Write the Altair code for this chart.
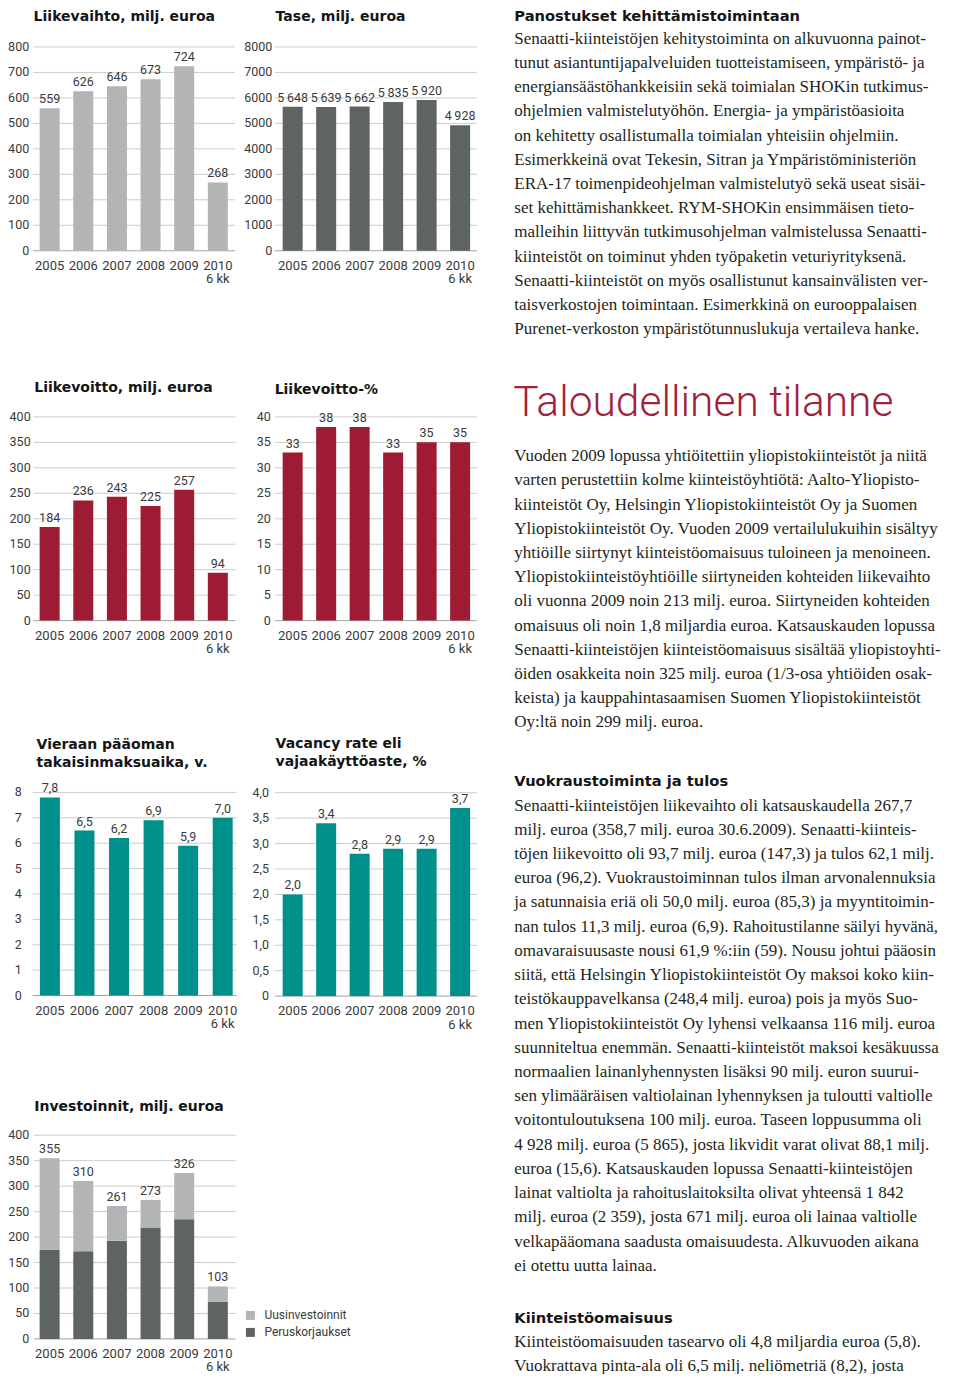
import altair as alt
import pandas as pd

# ---------------- data ----------------
years = ["2005", "2006", "2007", "2008", "2009", "2010"]
year_labels = ["2005", "2006", "2007", "2008", "2009", "2010\n6 kk"]

liikevaihto = [559, 626, 646, 673, 724, 268]
liikevaihto_ticks = [0, 100, 200, 300, 400, 500, 600, 700, 800]

tase = [5648, 5639, 5662, 5835, 5920, 4928]
tase_ticks = [0, 1000, 2000, 3000, 4000, 5000, 6000, 7000, 8000]

liikevoitto = [184, 236, 243, 225, 257, 94]
liikevoitto_ticks = [0, 50, 100, 150, 200, 250, 300, 350, 400]

liikevoitto_pct = [33, 38, 38, 33, 35, 35]
liikevoitto_pct_ticks = [0, 5, 10, 15, 20, 25, 30, 35, 40]

takaisinmaksuaika = [7.8, 6.5, 6.2, 6.9, 5.9, 7.0]
takaisinmaksuaika_ticks = [0, 1, 2, 3, 4, 5, 6, 7, 8]

vajaakaytto = [2.0, 3.4, 2.8, 2.9, 2.9, 3.7]
vajaakaytto_ticks = [0, 0.5, 1.0, 1.5, 2.0, 2.5, 3.0, 3.5, 4.0]

investoinnit = [355, 310, 261, 273, 326, 103]
peruskorjaukset = [175, 172, 193, 219, 235, 73]
uusinvestoinnit = [180, 138, 68, 54, 91, 30]
investoinnit_ticks = [0, 50, 100, 150, 200, 250, 300, 350, 400]
series_names = ["Uusinvestoinnit", "Peruskorjaukset"]

titles = {
    "liikevaihto": "Liikevaihto, milj. euroa",
    "tase": "Tase, milj. euroa",
    "liikevoitto": "Liikevoitto, milj. euroa",
    "liikevoitto_pct": "Liikevoitto-%",
    "takaisin": ["Vieraan pääoman", "takaisinmaksuaika, v."],
    "vajaa": ["Vacancy rate eli", "vajaakäyttöaste, %"],
    "investoinnit": "Investoinnit, milj. euroa",
}

heading_1 = "Panostukset kehittämistoimintaan"
body_1 = [
    "Senaatti-kiinteistöjen kehitystoiminta on alkuvuonna painot-",
    "tunut asiantuntijapalveluiden tuotteistamiseen, ympäristö- ja",
    "energiansäästöhankkeisiin sekä toimialan SHOKin tutkimus-",
    "ohjelmien valmistelutyöhön.  Energia- ja ympäristöasioita",
    "on kehitetty osallistumalla toimialan yhteisiin ohjelmiin.",
    "Esimerkkeinä ovat Tekesin, Sitran ja Ympäristöministeriön",
    "ERA-17 toimenpideohjelman valmistelutyö sekä useat sisäi-",
    "set kehittämishankkeet. RYM-SHOKin ensimmäisen tieto-",
    "malleihin liittyvän tutkimusohjelman valmistelussa Senaatti-",
    "kiinteistöt on toiminut yhden työpaketin veturiyrityksenä.",
    "Senaatti-kiinteistöt on myös osallistunut kansainvälisten ver-",
    "taisverkostojen toimintaan. Esimerkkinä on eurooppalaisen",
    "Purenet-verkoston ympäristötunnuslukuja vertaileva hanke.",
]
heading_main = "Taloudellinen tilanne"
body_2 = [
    "Vuoden 2009 lopussa yhtiöitettiin yliopistokiinteistöt ja niitä",
    "varten perustettiin kolme kiinteistöyhtiötä: Aalto-Yliopisto-",
    "kiinteistöt Oy, Helsingin Yliopistokiinteistöt Oy ja Suomen",
    "Yliopistokiinteistöt Oy. Vuoden 2009 vertailulukuihin sisältyy",
    "yhtiöille siirtynyt kiinteistöomaisuus tuloineen ja menoineen.",
    "Yliopistokiinteistöyhtiöille siirtyneiden kohteiden liikevaihto",
    "oli vuonna 2009 noin 213 milj. euroa. Siirtyneiden kohteiden",
    "omaisuus oli noin 1,8 miljardia euroa. Katsauskauden lopussa",
    "Senaatti-kiinteistöjen kiinteistöomaisuus sisältää yliopistoyhti-",
    "öiden osakkeita noin 325 milj. euroa (1/3-osa yhtiöiden osak-",
    "keista) ja kauppahintasaamisen Suomen Yliopistokiinteistöt",
    "Oy:ltä noin 299 milj. euroa.",
]
heading_3 = "Vuokraustoiminta ja tulos"
body_3 = [
    "Senaatti-kiinteistöjen liikevaihto oli katsauskaudella 267,7",
    "milj. euroa (358,7 milj. euroa 30.6.2009). Senaatti-kiinteis-",
    "töjen liikevoitto oli 93,7 milj. euroa (147,3) ja tulos 62,1 milj.",
    "euroa (96,2). Vuokraustoiminnan tulos ilman arvonalennuksia",
    "ja satunnaisia eriä oli 50,0 milj. euroa (85,3) ja myyntitoimin-",
    "nan tulos 11,3 milj. euroa (6,9). Rahoitustilanne säilyi hyvänä,",
    "omavaraisuusaste nousi 61,9 %:iin (59). Nousu johtui pääosin",
    "siitä, että Helsingin Yliopistokiinteistöt Oy maksoi koko kiin-",
    "teistökauppavelkansa (248,4 milj. euroa) pois ja myös Suo-",
    "men Yliopistokiinteistöt Oy lyhensi velkaansa 116 milj. euroa",
    "suunniteltua enemmän. Senaatti-kiinteistöt maksoi kesäkuussa",
    "normaalien lainanlyhennysten lisäksi 90 milj. euron suurui-",
    "sen ylimääräisen valtiolainan lyhennyksen ja tuloutti valtiolle",
    "voitontuloutuksena 100 milj. euroa. Taseen loppusumma oli",
    "4 928 milj. euroa (5 865), josta likvidit varat olivat 88,1 milj.",
    "euroa (15,6). Katsauskauden lopussa Senaatti-kiinteistöjen",
    "lainat valtiolta ja rahoituslaitoksilta olivat yhteensä 1 842",
    "milj. euroa (2 359), josta 671 milj. euroa oli lainaa valtiolle",
    "velkapääomana saadusta omaisuudesta. Alkuvuoden aikana",
    "ei otettu uutta lainaa.",
]
heading_4 = "Kiinteistöomaisuus"
body_4 = [
    "Kiinteistöomaisuuden tasearvo oli 4,8 miljardia euroa (5,8).",
    "Vuokrattava pinta-ala oli 6,5 milj. neliömetriä (8,2), josta",
]

# ---------------- styling / layout helpers ----------------
LIGHT = "#b3b4b6"
DARK = "#5d6462"
RED = "#9d1c33"
TEAL = "#00908b"
AX_FONT = "Roboto"
AX_COLOR = "#3a3a3a"
TITLE_FONT = "DejaVu Sans"
LBL_SIZE = 12.5


def X(x):
    return round(x * 0.985, 2)


def Y(y):
    return round(y * 0.9908, 2)


one = pd.DataFrame({"k": [0]})


def f_int(v):
    return str(v)


def f_space(v):
    return f"{v:,}".replace(",", "\u2009")


def f_dec(v):
    return f"{v:.1f}".replace(".", ",")


def f_dec_tick(v):
    return "0" if v == 0 else f_dec(v)


def scales(band, ybot, ytop, dmax):
    r0, r1 = X(band[0]), X(band[1])
    step = (r1 - r0) / len(years)
    pin = 1 - 20.0 / step
    xs = alt.Scale(type="band", domain=years, range=[r0, r1],
                   paddingInner=pin, paddingOuter=pin / 2)
    ys = alt.Scale(type="linear", domain=[0, dmax], range=[Y(ybot), Y(ytop)],
                   nice=False, zero=True)
    return xs, ys


def frame(title, tx, ty, ticks, tick_fmt, ybot, grid, tick_x, xs, ys):
    tdf = pd.DataFrame({"t": ticks, "lbl": [tick_fmt(t) for t in ticks]})
    cdf = pd.DataFrame({"year": years, "cat": year_labels})
    g = alt.Chart(tdf).mark_rule(strokeWidth=1).encode(
        y=alt.Y("t:Q", scale=ys, axis=None),
        x=alt.value(X(grid[0])),
        x2=alt.value(X(grid[1])),
        color=alt.when(alt.datum.t == 0).then(alt.value("#a3a3a3")).otherwise(alt.value("#cccccc")),
    )
    tl = alt.Chart(tdf).mark_text(
        align="right", baseline="middle", font=AX_FONT, fontSize=LBL_SIZE, color=AX_COLOR
    ).encode(y=alt.Y("t:Q", scale=ys, axis=None), x=alt.value(X(tick_x)), text="lbl:N")
    cl = alt.Chart(cdf).mark_text(
        align="center", baseline="alphabetic", lineBreak="\n", lineHeight=13.5,
        font=AX_FONT, fontSize=13, color=AX_COLOR
    ).encode(x=alt.X("year:N", scale=xs, axis=None), y=alt.value(Y(ybot) + 19), text="cat:N")
    ti = alt.Chart(one).mark_text(
        text=title, align="left", baseline="alphabetic", font=TITLE_FONT,
        fontWeight="bold", fontSize=14, lineHeight=18, color="#151515"
    ).encode(x=alt.value(X(tx)), y=alt.value(Y(ty)))
    return g, tl, cl, ti


def simple_panel(values, vfmt, color, title, tx, ty, ticks, tfmt, dmax,
                 ybot, ytop, band, grid, tick_x):
    xs, ys = scales(band, ybot, ytop, dmax)
    df = pd.DataFrame({"year": years, "v": values, "lbl": [vfmt(v) for v in values]})
    b = alt.Chart(df).mark_bar(color=color).encode(
        x=alt.X("year:N", scale=xs, axis=None),
        y=alt.Y("v:Q", scale=ys, axis=None),
    )
    vl = alt.Chart(df).mark_text(
        align="center", baseline="alphabetic", dy=-5, font=AX_FONT, fontSize=LBL_SIZE, color=AX_COLOR
    ).encode(x=alt.X("year:N", scale=xs, axis=None), y=alt.Y("v:Q", scale=ys, axis=None), text="lbl:N")
    g, tl, cl, ti = frame(title, tx, ty, ticks, tfmt, ybot, grid, tick_x, xs, ys)
    return alt.layer(g, tl, b, vl, cl, ti)


p1 = simple_panel(liikevaihto, f_int, LIGHT, titles["liikevaihto"], 26, 13.5,
                  liikevaihto_ticks, f_int, 800, 245, 39.3, (25.2, 230.1), (25.5, 230.5), 21.5)
p2 = simple_panel(tase, f_space, DARK, titles["tase"], 271.7, 13.3,
                  tase_ticks, f_int, 8000, 245, 39.3, (272, 476), (271, 476), 268.3)
p3 = simple_panel(liikevoitto, f_int, RED, titles["liikevoitto"], 26.7, 387.3,
                  liikevoitto_ticks, f_int, 400, 618.3, 412.7, (25.2, 230.1), (26, 231), 23)
p4 = simple_panel(liikevoitto_pct, f_int, RED, titles["liikevoitto_pct"], 270.7, 389.3,
                  liikevoitto_pct_ticks, f_int, 40, 618.3, 412.7, (272, 476), (271, 476), 266.7)
p5 = simple_panel(takaisinmaksuaika, f_dec, TEAL, titles["takaisin"], 29, 747.5,
                  takaisinmaksuaika_ticks, f_int, 8, 996.7, 791.7, (25, 235.5), (25, 232), 14)
p6 = simple_panel(vajaakaytto, f_dec, TEAL, titles["vajaa"], 271.7, 746.5,
                  vajaakaytto_ticks, f_dec_tick, 4, 997.3, 792, (272, 476), (271, 476), 265)

# stacked investments panel
xs7, ys7 = scales((25.2, 230.1), 1343.3, 1137.7, 400)
inv_df = pd.DataFrame({
    "year": years * 2,
    "typ": [series_names[1]] * 6 + [series_names[0]] * 6,
    "v": peruskorjaukset + uusinvestoinnit,
    "ord": [0] * 6 + [1] * 6,
})
tot_df = pd.DataFrame({"year": years, "v": investoinnit, "lbl": [f_int(v) for v in investoinnit]})
b7 = alt.Chart(inv_df).mark_bar().encode(
    x=alt.X("year:N", scale=xs7, axis=None),
    y=alt.Y("v:Q", stack="zero", scale=ys7, axis=None),
    color=alt.Color(
        "typ:N",
        scale=alt.Scale(domain=series_names, range=[LIGHT, DARK]),
        legend=alt.Legend(
            title=None, orient="none", legendX=X(240), legendY=Y(1313.5),
            symbolType="square", symbolSize=81, symbolStrokeWidth=0, symbolOpacity=1,
            labelFont=AX_FONT, labelFontSize=12, labelColor=AX_COLOR,
            labelOffset=8, rowPadding=5, padding=0,
        ),
    ),
    order=alt.Order("ord:Q"),
)
v7 = alt.Chart(tot_df).mark_text(
    align="center", baseline="alphabetic", dy=-5, font=AX_FONT, fontSize=LBL_SIZE, color=AX_COLOR
).encode(x=alt.X("year:N", scale=xs7, axis=None), y=alt.Y("v:Q", scale=ys7, axis=None), text="lbl:N")
g7, tl7, cl7, ti7 = frame(titles["investoinnit"], 26.7, 1113.3, investoinnit_ticks, f_int,
                          1343.3, (26.5, 231), 21.7, xs7, ys7)
p7 = alt.layer(g7, tl7, b7, v7, cl7, ti7)


# ---------------- text column ----------------
LH = round(24.44 * 0.9908, 2)


def text_block(lines, x, y, size, font, weight, color, lh=LH):
    return alt.Chart(one).mark_text(
        text=lines, align="left", baseline="alphabetic", font=font, fontSize=size,
        fontWeight=weight, color=color, lineHeight=lh
    ).encode(x=alt.value(X(x)), y=alt.value(Y(y)))


SERIF = "Liberation Serif"
BODY_SIZE = 17.0
BODY_COLOR = "#231f20"
HEAD_FONT = "DejaVu Sans"
texts = [
    text_block(heading_1, 514, 13.5, 14.7, HEAD_FONT, "bold", "#151515"),
    text_block(body_1, 514, 36, BODY_SIZE, SERIF, "normal", BODY_COLOR),
    text_block(heading_main, 513, 411.7, 42.5, "Roboto", 300, "#a3223b"),
    text_block(body_2, 514, 457.3, BODY_SIZE, SERIF, "normal", BODY_COLOR),
    text_block(heading_3, 514, 785.3, 14.7, HEAD_FONT, "bold", "#151515"),
    text_block(body_3, 514, 810, BODY_SIZE, SERIF, "normal", BODY_COLOR),
    text_block(heading_4, 514, 1327.7, 14.7, HEAD_FONT, "bold", "#151515"),
    text_block(body_4, 514, 1351, BODY_SIZE, SERIF, "normal", BODY_COLOR),
]

chart = (
    alt.layer(p1, p2, p3, p4, p5, p6, p7, *texts)
    .resolve_scale(x="independent", y="independent")
    .properties(width=944, height=1366, autosize=alt.AutoSizeParams(type="none"), padding=0)
    .configure_view(stroke=None)
)

chart.save("out.html", embed_options={"renderer": "svg", "actions": False})
